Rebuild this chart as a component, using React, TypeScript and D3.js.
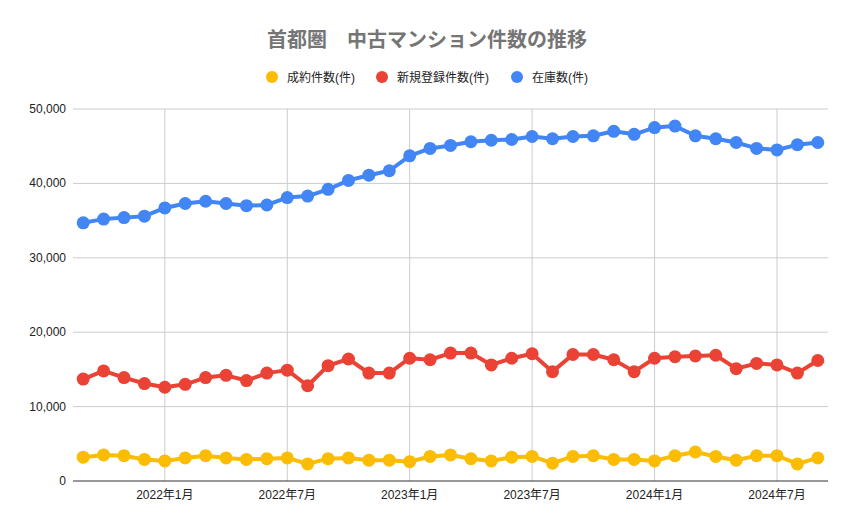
import React from "react";
import * as d3 from "d3";

const months: string[] = [
  "2021-09","2021-10","2021-11","2021-12",
  "2022-01","2022-02","2022-03","2022-04","2022-05","2022-06","2022-07","2022-08","2022-09","2022-10","2022-11","2022-12",
  "2023-01","2023-02","2023-03","2023-04","2023-05","2023-06","2023-07","2023-08","2023-09","2023-10","2023-11","2023-12",
  "2024-01","2024-02","2024-03","2024-04","2024-05","2024-06","2024-07","2024-08","2024-09",
];

const seiyaku: number[] = [
  3200, 3500, 3400, 2900, 2700, 3100, 3400, 3100, 2900, 3000, 3100, 2300, 3000, 3100, 2800, 2800,
  2600, 3300, 3500, 3000, 2700, 3200, 3300, 2400, 3300, 3400, 2900, 2900,
  2700, 3400, 3900, 3300, 2800, 3400, 3400, 2300, 3100,
];

const shinki: number[] = [
  13700, 14800, 13900, 13100, 12600, 13000, 13900, 14200, 13500, 14500, 14900, 12800, 15500, 16400, 14500, 14500,
  16500, 16300, 17200, 17200, 15600, 16500, 17100, 14700, 17000, 17000, 16300, 14700,
  16500, 16700, 16800, 16900, 15100, 15800, 15600, 14500, 16200,
];

const zaiko: number[] = [
  34700, 35200, 35400, 35600, 36700, 37300, 37600, 37300, 37000, 37100, 38100, 38300, 39200, 40400, 41100, 41700,
  43700, 44700, 45100, 45600, 45800, 45900, 46300, 46000, 46300, 46400, 47000, 46600,
  47500, 47700, 46400, 46000, 45500, 44700, 44500, 45200, 45500,
];

const yTicks: number[] = [0, 10000, 20000, 30000, 40000, 50000];
const xTickMonths: string[] = ["2022-01", "2022-07", "2023-01", "2023-07", "2024-01", "2024-07"];
const xTickLabels: string[] = ["2022年1月", "2022年7月", "2023年1月", "2023年7月", "2024年1月", "2024年7月"];

const seriesNames: string[] = ["成約件数(件)", "新規登録件数(件)", "在庫数(件)"];
const seriesColors: string[] = ["#FBBC04", "#EA4335", "#4285F4"];
const titleText = "首都圏　中古マンション件数の推移";

const FONT = "'Liberation Sans', Arial, 'Noto Sans CJK JP', sans-serif";

export default function App() {
  const W = 855, H = 529;
  const left = 73, right = 828, top = 109, bottom = 481;
  const x = d3.scaleLinear().domain([-0.5, months.length - 0.5]).range([left, right]);
  const y = d3.scaleLinear().domain([0, 50000]).range([bottom, top]);
  const line = d3.line<number>().x((_, i) => x(i)).y((d) => y(d));
  const allSeries = [seiyaku, shinki, zaiko];
  const fmt = d3.format(",");
  const legendX = [272, 382, 517];

  return (
    <div style={{ position: "absolute", left: 0, top: 0 }}>
      <svg width={W} height={H} style={{ display: "block", background: "#fff" }} fontFamily={FONT}>
        <rect x={0} y={0} width={W} height={H} fill="#fff" />
        <text x={427} y={47} textAnchor="middle" fontSize={20} fontWeight="bold" fill="#757575">
          {titleText}
        </text>
        {seriesNames.map((n, i) => (
          <g key={n}>
            <circle cx={legendX[i]} cy={77} r={6} fill={seriesColors[i]} />
            <text x={legendX[i] + 15} y={81.5} fontSize={12} fill="#222">{n}</text>
          </g>
        ))}
        {yTicks.map((t) => (
          <g key={t}>
            {t !== 0 && (
              <line x1={left} x2={right} y1={y(t)} y2={y(t)} stroke="#cccccc" strokeWidth={1} />
            )}
            <text x={66} y={y(t) + 4} textAnchor="end" fontSize={12} fill="#222">{fmt(t)}</text>
          </g>
        ))}
        {xTickMonths.map((m, k) => {
          const i = months.indexOf(m);
          return (
            <g key={m}>
              <line x1={x(i)} x2={x(i)} y1={top} y2={bottom} stroke="#cccccc" strokeWidth={1} />
              <text x={x(i)} y={499} textAnchor="middle" fontSize={12} fill="#222">{xTickLabels[k]}</text>
            </g>
          );
        })}
        <line x1={left} x2={right} y1={bottom} y2={bottom} stroke="#333" strokeWidth={1} />
        {allSeries.map((s, si) => (
          <g key={si}>
            <path d={line(s) || ""} fill="none" stroke={seriesColors[si]} strokeWidth={4} strokeLinejoin="round" />
            {s.map((v, i) => (
              <circle key={i} cx={x(i)} cy={y(v)} r={6.5} fill={seriesColors[si]} />
            ))}
          </g>
        ))}
      </svg>
    </div>
  );
}
